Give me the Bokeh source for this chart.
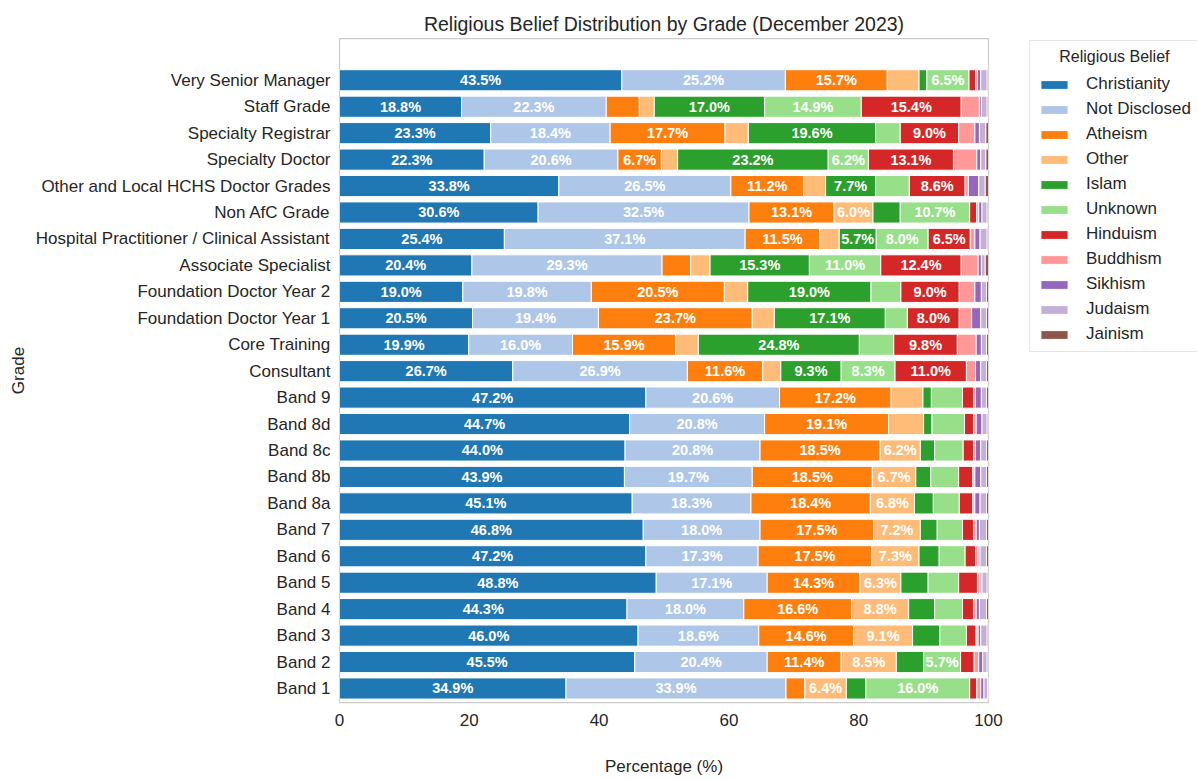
from bokeh.plotting import figure
from bokeh.layouts import row
from bokeh.models import ColumnDataSource, Range1d, FixedTicker, Legend, LegendItem
from bokeh.core.properties import value
from bokeh.embed import file_html
from bokeh.resources import INLINE

# ---------------- data ----------------
grades = ["Very Senior Manager", "Staff Grade", "Specialty Registrar", "Specialty Doctor",
          "Other and Local HCHS Doctor Grades", "Non AfC Grade",
          "Hospital Practitioner / Clinical Assistant", "Associate Specialist",
          "Foundation Doctor Year 2", "Foundation Doctor Year 1", "Core Training",
          "Consultant", "Band 9", "Band 8d", "Band 8c", "Band 8b", "Band 8a", "Band 7",
          "Band 6", "Band 5", "Band 4", "Band 3", "Band 2", "Band 1"]

religions = ["Christianity", "Not Disclosed", "Atheism", "Other", "Islam", "Unknown",
             "Hinduism", "Buddhism", "Sikhism", "Judaism", "Jainism"]

colors = ["#1f77b4", "#aec7e8", "#ff7f0e", "#ffbb78", "#2ca02c", "#98df8a",
          "#d62728", "#ff9896", "#9467bd", "#c5b0d5", "#8c564b"]

christianity = [43.5, 18.8, 23.3, 22.3, 33.8, 30.6, 25.4, 20.4, 19.0, 20.5, 19.9, 26.7,
                47.2, 44.7, 44.0, 43.9, 45.1, 46.8, 47.2, 48.8, 44.3, 46.0, 45.5, 34.9]
not_disclosed = [25.2, 22.3, 18.4, 20.6, 26.5, 32.5, 37.1, 29.3, 19.8, 19.4, 16.0, 26.9,
                 20.6, 20.8, 20.8, 19.7, 18.3, 18.0, 17.3, 17.1, 18.0, 18.6, 20.4, 33.9]
atheism = [15.7, 5.1, 17.7, 6.7, 11.2, 13.1, 11.5, 4.4, 20.5, 23.7, 15.9, 11.6,
           17.2, 19.1, 18.5, 18.5, 18.4, 17.5, 17.5, 14.3, 16.6, 14.6, 11.4, 2.9]
other = [4.9, 2.3, 3.6, 2.5, 3.4, 6.0, 3.0, 3.0, 3.6, 3.4, 3.5, 2.8,
         4.9, 5.4, 6.2, 6.7, 6.8, 7.2, 7.3, 6.3, 8.8, 9.1, 8.5, 6.4]
islam = [1.2, 17.0, 19.6, 23.2, 7.7, 4.2, 5.7, 15.3, 19.0, 17.1, 24.8, 9.3,
         1.3, 1.3, 2.2, 2.3, 2.9, 2.6, 3.1, 4.2, 4.0, 4.2, 4.2, 3.0]
unknown = [6.5, 14.9, 3.8, 6.2, 5.2, 10.7, 8.0, 11.0, 4.6, 3.4, 5.3, 8.3,
           4.8, 5.0, 4.4, 4.3, 4.0, 3.9, 4.0, 4.7, 4.3, 4.1, 5.7, 16.0]
hinduism = [1.0, 15.4, 9.0, 13.1, 8.6, 1.1, 6.5, 12.4, 9.0, 8.0, 9.8, 11.0,
            1.7, 1.4, 1.6, 2.2, 2.1, 1.7, 1.6, 2.9, 1.7, 1.5, 2.1, 1.1]
buddhism = [0.3, 2.8, 2.5, 3.6, 0.5, 0.3, 0.7, 2.6, 2.4, 1.9, 2.9, 1.4,
            0.3, 0.4, 0.3, 0.3, 0.3, 0.4, 0.4, 0.4, 0.4, 0.3, 0.7, 0.6]
sikhism = [0.5, 0.3, 0.7, 0.6, 1.6, 0.5, 0.8, 0.5, 1.0, 1.4, 0.8, 0.8,
           0.9, 0.9, 0.8, 0.9, 0.8, 0.5, 0.3, 0.3, 0.5, 0.4, 0.6, 0.5]
judaism = [1.0, 0.9, 1.0, 0.8, 1.0, 0.8, 1.1, 0.6, 0.8, 0.9, 0.8, 0.9,
           0.8, 0.8, 0.9, 0.9, 1.0, 1.1, 1.0, 0.8, 1.1, 1.0, 0.7, 0.6]
jainism = [0.2, 0.2, 0.4, 0.4, 0.5, 0.2, 0.2, 0.5, 0.3, 0.3, 0.3, 0.3,
           0.3, 0.2, 0.3, 0.3, 0.3, 0.3, 0.3, 0.2, 0.3, 0.2, 0.2, 0.1]

x_ticks = [0, 20, 40, 60, 80, 100]

series = [christianity, not_disclosed, atheism, other, islam, unknown,
          hinduism, buddhism, sikhism, judaism, jainism]

# ---------------- build ----------------
FONT = "Liberation Sans"
TXT = "#262626"
n = len(grades)
ypos = [n - 1 - i for i in range(n)]

data = {"y": ypos}
for name, vals in zip(religions, series):
    data[name] = vals
source = ColumnDataSource(data)

p = figure(width=1010, height=778, output_backend="svg", toolbar_location=None,
           x_range=Range1d(0, 100), y_range=Range1d(-0.53, n - 1 + 1.58),
           min_border_left=339, min_border_right=22, min_border_top=38,
           min_border_bottom=74)

p.hbar_stack(religions, y="y", height=0.8, color=colors, source=source,
             line_color="white", line_width=1)

# value labels for segments wide enough to hold them
lx, ly, lt = [], [], []
for gi in range(n):
    left = 0.0
    for si in range(len(religions)):
        v = series[si][gi]
        if v >= 5.5:
            lx.append(left + v / 2)
            ly.append(ypos[gi])
            lt.append(f"{v:.1f}%")
        left += v
lab_src = ColumnDataSource({"x": lx, "y": ly, "t": lt})
p.text(x="x", y="y", text="t", source=lab_src, text_align="center",
       text_baseline="middle", text_color="white", text_font=value(FONT),
       text_font_style="bold", text_font_size="14.5px")

# title
p.title.text = "Religious Belief Distribution by Grade (December 2023)"
p.title.align = "center"
p.title.text_font = FONT
p.title.text_font_size = "19.5px"
p.title.text_font_style = "normal"
p.title.text_color = TXT
p.title.standoff = 8

# axes
p.xaxis.ticker = FixedTicker(ticks=x_ticks)
p.xaxis.axis_label = "Percentage (%)"
p.yaxis.ticker = FixedTicker(ticks=ypos)
p.yaxis.major_label_overrides = {ypos[i]: grades[i] for i in range(n)}
p.yaxis.axis_label = "Grade"
for ax in (p.xaxis[0], p.yaxis[0]):
    ax.axis_line_color = None
    ax.major_tick_line_color = None
    ax.minor_tick_line_color = None
    ax.major_label_text_font = FONT
    ax.major_label_text_font_size = "17px"
    ax.major_label_text_color = TXT
    ax.axis_label_text_font = FONT
    ax.axis_label_text_font_size = "17px"
    ax.axis_label_text_font_style = "normal"
    ax.axis_label_text_color = TXT
p.xaxis.major_label_standoff = 5
p.yaxis.major_label_standoff = 3
p.xaxis.axis_label_standoff = 28
p.yaxis.axis_label_standoff = 5

p.xgrid.visible = False
p.ygrid.visible = False
p.outline_line_color = "#cccccc"
p.outline_line_width = 1.25

# ---------------- legend (separate panel to the right) ----------------
pl = figure(width=187, height=778, output_backend="svg", toolbar_location=None,
            x_range=Range1d(0, 100), y_range=Range1d(-0.53, n - 1 + 1.58),
            min_border_left=17, min_border_right=0, min_border_top=38,
            min_border_bottom=74, x_axis_location=None, y_axis_location=None)
pl.xgrid.visible = False
pl.ygrid.visible = False
pl.outline_line_color = None
leg_renderers = pl.hbar_stack(religions, y="y", height=0.8, color=colors, source=source,
                              line_color="white", line_width=1)
for r in leg_renderers:
    r.visible = False

items = [LegendItem(label=r, renderers=[rend]) for r, rend in zip(religions, leg_renderers)]
legend = Legend(items=items, title="\u00a0\u00a0\u00a0\u00a0\u00a0Religious Belief",
                location="top_left")
legend.label_text_font = FONT
legend.label_text_font_size = "17px"
legend.label_text_color = TXT
legend.title_text_font = FONT
legend.title_text_font_size = "16px"
legend.title_text_font_style = "normal"
legend.title_text_color = TXT
legend.border_line_color = "#cccccc"
legend.border_line_width = 1
legend.background_fill_color = "white"
legend.background_fill_alpha = 1
legend.inactive_fill_alpha = 0
legend.padding = 7
legend.spacing = 5
legend.margin = 2
legend.glyph_width = 34
legend.glyph_height = 11
legend.label_standoff = 15
legend.label_height = 20
legend.title_standoff = 8
pl.add_layout(legend)

layout = row(p, pl)
open("out.html", "w").write(file_html(layout, INLINE))
